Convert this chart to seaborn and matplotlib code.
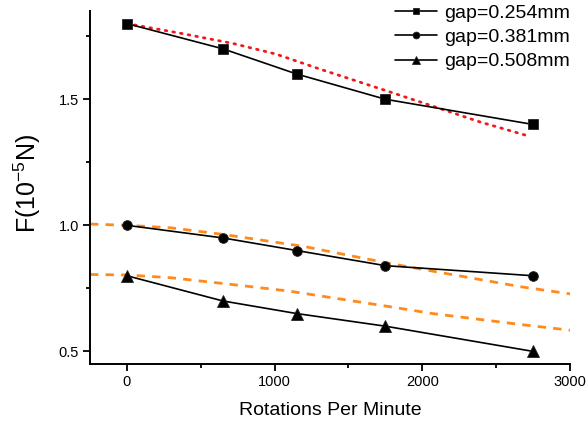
import numpy as np
import pandas as pd
import seaborn as sns
import matplotlib.pyplot as plt
from matplotlib.ticker import MultipleLocator

# measured force vs rotation speed for three gap sizes
rpm = [0, 650, 1150, 1750, 2750]
f_gap254 = [1.80, 1.70, 1.60, 1.50, 1.40]
f_gap381 = [1.00, 0.95, 0.90, 0.84, 0.80]
f_gap508 = [0.80, 0.70, 0.65, 0.60, 0.50]
labels = ["gap=0.254mm", "gap=0.381mm", "gap=0.508mm"]

# model curves
red_rpm = [0, 360, 720, 1010, 1310, 1760, 2100, 2390, 2720]
red_f = [1.80, 1.762, 1.721, 1.679, 1.619, 1.533, 1.467, 1.410, 1.354]
orange1_rpm = [-250, 0, 300, 650, 1200, 1750, 1900, 2660, 3000]
orange1_f = [1.005, 1.000, 0.990, 0.964, 0.916, 0.852, 0.836, 0.757, 0.728]
orange2_rpm = [-250, 0, 300, 700, 1100, 1750, 2070, 2660, 3000]
orange2_f = [0.805, 0.803, 0.792, 0.766, 0.739, 0.680, 0.650, 0.607, 0.584]

sns.set_style("ticks")
plt.rcParams['font.family'] = ['Liberation Sans', 'DejaVu Sans']
plt.rcParams['mathtext.fontset'] = 'custom'
plt.rcParams['mathtext.rm'] = 'Liberation Sans'
plt.rcParams['text.color'] = 'black'
plt.rcParams['axes.labelcolor'] = 'black'
plt.rcParams['xtick.color'] = 'black'
plt.rcParams['ytick.color'] = 'black'
plt.rcParams['axes.edgecolor'] = 'black'

fig = plt.figure(figsize=(5.86, 4.26), dpi=100)
ax = fig.add_axes([90 / 586, 1 - 364 / 426, 480 / 586, 353 / 426])

# fitted curves first so the data sits on top
sns.lineplot(x=red_rpm, y=red_f, ax=ax, color='#f01818', lw=2.0,
             linestyle=(0, (0.6, 2.2)), dash_capstyle='round', sort=False)
sns.lineplot(x=orange1_rpm, y=orange1_f, ax=ax, color='#ff8a1c', lw=2.0,
             linestyle=(0, (3, 2.6)), sort=False)
sns.lineplot(x=orange2_rpm, y=orange2_f, ax=ax, color='#ff8a1c', lw=2.0,
             linestyle=(0, (3, 2.6)), sort=False)

for vals, mk, lab, ms in zip([f_gap254, f_gap381, f_gap508], ['s', 'o', '^'], labels, [7, 7, 8]):
    sns.lineplot(x=rpm, y=vals, ax=ax, color='black', lw=1.2, marker=mk,
                 markersize=ms, markeredgecolor='#222222', markeredgewidth=0.6,
                 label=lab)

ax.set_xlim(-250, 3000)
ax.set_ylim(0.45, 1.85)
ax.xaxis.set_major_locator(MultipleLocator(1000))
ax.xaxis.set_minor_locator(MultipleLocator(500))
ax.yaxis.set_minor_locator(MultipleLocator(0.25))
ax.set_yticks([0.5, 1.0, 1.5])
ax.set_yticklabels(['0.5', '1.0', '1.5'])
ax.tick_params(which='major', direction='out', length=5, width=1.3, labelsize=10.5, pad=3)
ax.tick_params(which='minor', direction='out', length=3, width=1.3)
for side in ['top', 'right']:
    ax.spines[side].set_visible(False)
for side in ['left', 'bottom']:
    ax.spines[side].set_linewidth(1.4)

ax.set_xlabel("Rotations Per Minute", fontsize=14, labelpad=9)
ax.set_ylabel("")
fig.text(27 / 586, 1 - 183 / 426, r"F(10$^{-5}$N)", rotation=90,
         ha='center', va='center', fontsize=18)

h, l = ax.get_legend_handles_labels()
ax.legend(h[-3:], l[-3:], loc='upper right', bbox_to_anchor=(572 / 586, 1 - 2 / 426),
          bbox_transform=fig.transFigure, frameon=False, fontsize=14,
          handlelength=2.2, handletextpad=0.35, labelspacing=0.35,
          borderpad=0.1, borderaxespad=0, markerscale=0.7)

fig.savefig("out.png", dpi=100)
